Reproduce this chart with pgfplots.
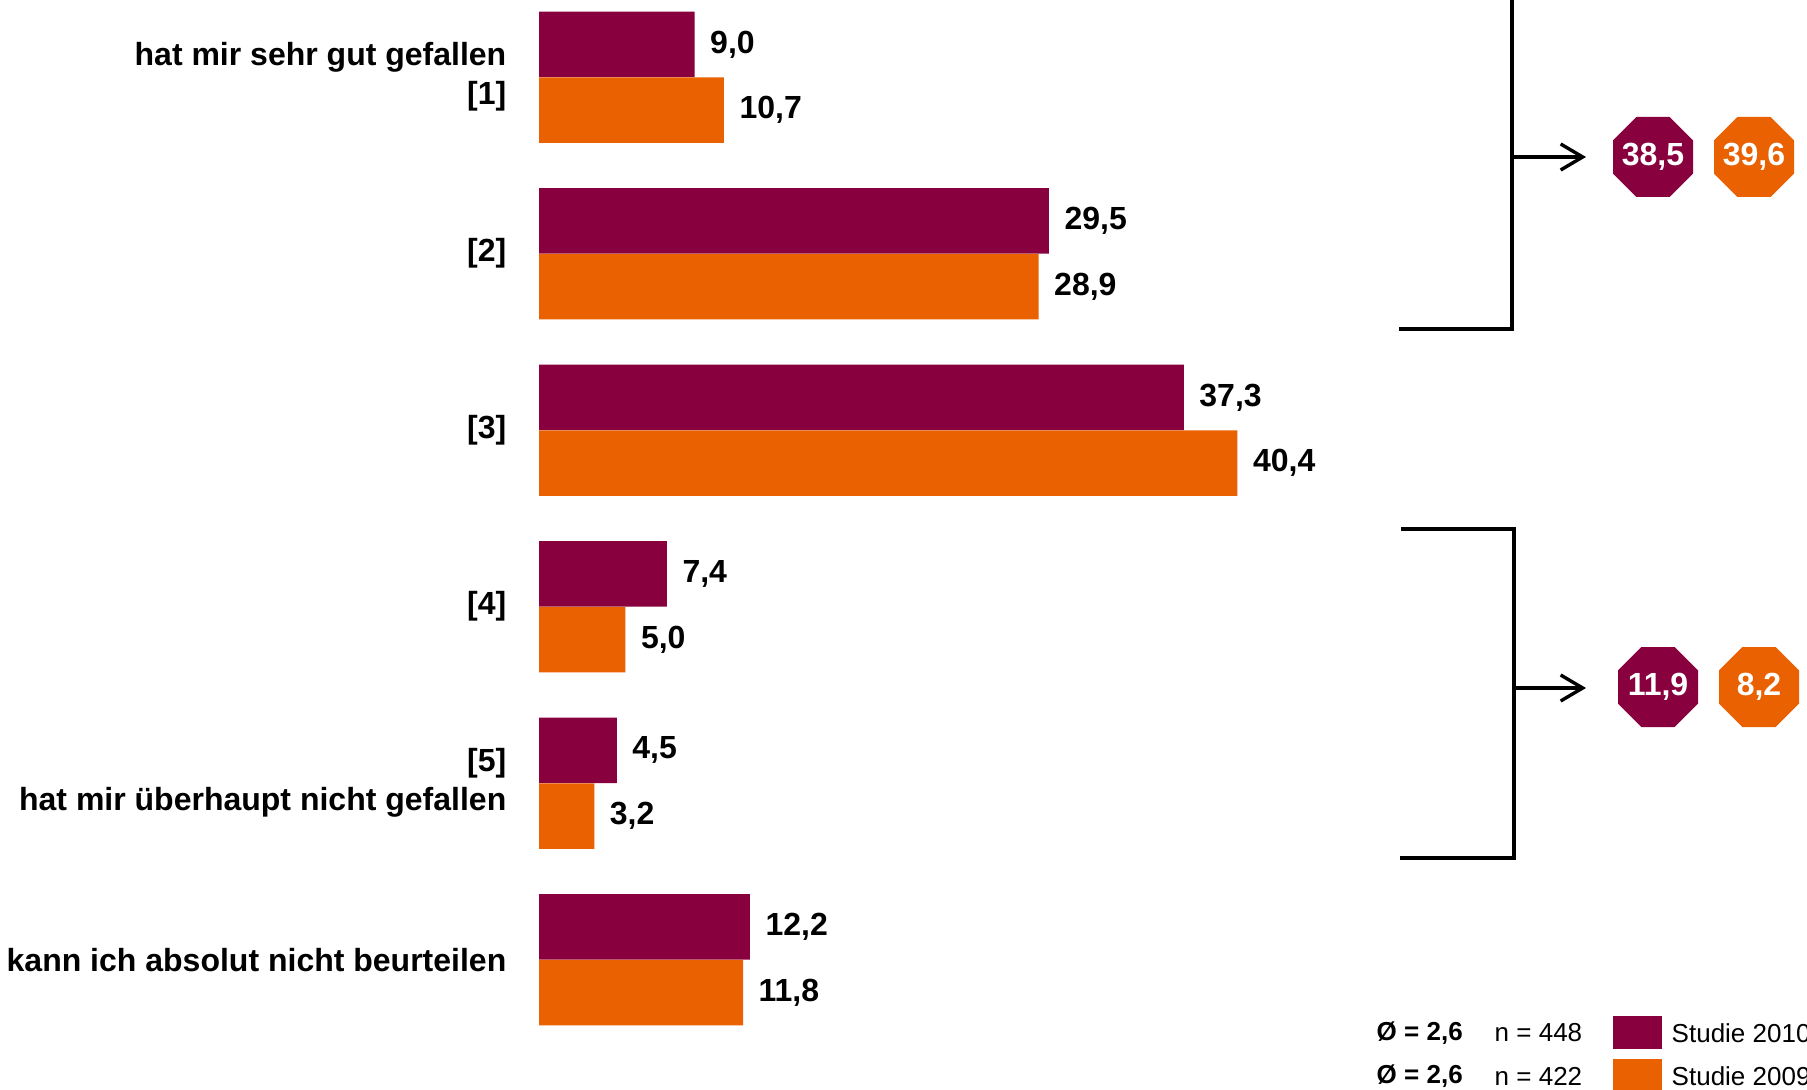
\documentclass[border=0pt]{standalone}
\usepackage{fontspec}
\setmainfont{Liberation Sans}
\usepackage{pgfplots}
\pgfplotsset{compat=1.18}
\usetikzlibrary{arrows.meta,shapes.geometric}

\definecolor{studA}{RGB}{137,0,62}
\definecolor{studB}{RGB}{233,97,0}

\newcommand{\lbl}{\fontsize{8}{9.75}\selectfont\bfseries}
\newcommand{\legfont}{\fontsize{6.5}{7.8}\selectfont}

\begin{document}
\begin{tikzpicture}
\useasboundingbox (0,0) rectangle (451.75pt,-272.5pt);
\begin{axis}[
  at={(0pt,0pt)}, anchor=north west,
  scale only axis, width=451.75pt, height=272.5pt,
  hide axis, clip=false,
  xmin=-31.18, xmax=73.35,
  ymin=0, ymax=1090, y dir=reverse,
  xbar, bar shift=0pt, bar width=16.4pt,
  point meta=explicit symbolic,
  nodes near coords,
  every node near coord/.append style={anchor=west, inner sep=0pt,
    xshift=3.7pt, font=\lbl, text=black},
]
% Studie 2010
\addplot[fill=studA, draw=none] coordinates {
  (9.0,44.4)   [9,0]
  (29.5,220.9) [29,5]
  (37.3,397.4) [37,3]
  (7.4,573.9)  [7,4]
  (4.5,750.4)  [4,5]
  (12.2,926.9) [12,2]
};
% Studie 2009
\addplot[fill=studB, draw=none] coordinates {
  (10.7,110.1) [10,7]
  (28.9,286.6) [28,9]
  (40.4,463.1) [40,4]
  (5.0,639.6)  [5,0]
  (3.2,816.1)  [3,2]
  (11.8,992.6) [11,8]
};
\end{axis}

\begin{scope}[x=0.25pt, y=-0.25pt, line width=0.85pt]
  % category labels
  \begin{scope}[every node/.style={anchor=east, align=right, inner sep=0pt, font=\lbl}]
    \node at (508,77.2)  {hat mir sehr gut gefallen\\{}[1]};
    \node at (508,253.7) {[2]};
    \node at (508,430.2) {[3]};
    \node at (508,606.7) {[4]};
    \node at (508,783.2) {[5]\\hat mir überhaupt nicht gefallen};
    \node at (508,959.7) {kann ich absolut nicht beurteilen};
  \end{scope}

  % brackets with arrows
  \draw (1399,329) -- (1512,329) -- (1512,-10);
  \draw[-{Straight Barb[length=5.5pt,width=6.5pt]}] (1512,157) -- (1586,157);
  \draw (1401,529) -- (1514,529) -- (1514,858) -- (1400,858);
  \draw[-{Straight Barb[length=5.5pt,width=6.5pt]}] (1514,688) -- (1586,688);

  % summed shares: octagon badges, then their numbers
  \tikzset{oct/.style={regular polygon, regular polygon sides=8,
      minimum size=21.65pt, inner sep=0pt, draw=none},
    octtxt/.style={inner sep=0pt, text=white, font=\lbl}}
  \node[oct, fill=studA] at (1653,157) {};
  \node[oct, fill=studB] at (1754,157) {};
  \node[oct, fill=studA] at (1658,687) {};
  \node[oct, fill=studB] at (1759,687) {};
  \node[octtxt] at (1653,157) {38,5};
  \node[octtxt] at (1754,157) {39,6};
  \node[octtxt] at (1658,687) {11,9};
  \node[octtxt] at (1759,687) {8,2};

  % legend
  \fill[studA] (1613,1016) rectangle (1662,1049);
  \fill[studB] (1613,1059) rectangle (1662,1098);
  \begin{scope}[every node/.style={anchor=west, inner sep=0pt, font=\legfont}]
    \node at (1375,1033) {\bfseries Ø = 2,6};
    \node at (1375,1076) {\bfseries Ø = 2,6};
    \node at (1493,1033) {n = 448};
    \node at (1493,1076) {n = 422};
    \node at (1670,1033) {Studie 2010};
    \node at (1670,1076) {Studie 2009};
  \end{scope}
\end{scope}
\end{tikzpicture}
\end{document}
